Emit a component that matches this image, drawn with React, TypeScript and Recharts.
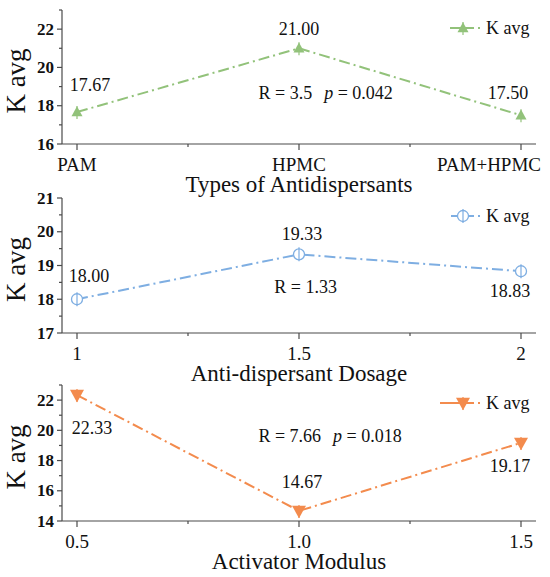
import React from 'react';
import { LineChart, Line, XAxis, YAxis, ReferenceDot } from 'recharts';

// panel 1: types of antidispersants
const antiTypes = ['PAM', 'HPMC', 'PAM+HPMC'];
const antiTypeK = [17.67, 21.0, 17.5];
const antiTypeYTicks = [16, 17, 18, 19, 20, 21, 22, 23];
const antiTypeYMajor = [16, 18, 20, 22];

// panel 2: anti-dispersant dosage
const dosages = ['1', '1.5', '2'];
const dosageK = [18.0, 19.33, 18.83];
const dosageYTicks = [17, 17.5, 18, 18.5, 19, 19.5, 20, 20.5, 21];
const dosageYMajor = [17, 18, 19, 20, 21];

// panel 3: activator modulus
const moduli = ['0.5', '1.0', '1.5'];
const modulusK = [22.33, 14.67, 19.17];
const modulusYTicks = [14, 15, 16, 17, 18, 19, 20, 21, 22, 23];
const modulusYMajor = [14, 16, 18, 20, 22];

const X_TICKS = [0, 0.5, 1, 1.5, 2];
const FONT = '"Liberation Serif", Tinos, "Times New Roman", "DejaVu Serif", serif';
const AXIS = '#4a4a4a';
const txt = { fontFamily: FONT };

type Shape = 'up' | 'circle' | 'down';

const Marker = ({ shape, cx, cy, color, size }: { shape: Shape; cx: number; cy: number; color: string; size: number }) => {
  const h = size / 2;
  if (shape === 'circle') {
    return (
      <g>
        <circle cx={cx} cy={cy} r={h} fill="#fff" stroke={color} strokeWidth={1.3} />
        <line x1={cx} x2={cx} y1={cy - h - 1.5} y2={cy + h + 1.5} stroke={color} strokeWidth={1.2} />
      </g>
    );
  }
  const pts =
    shape === 'up'
      ? `${cx},${cy - h * 1.05} ${cx - h},${cy + h * 0.75} ${cx + h},${cy + h * 0.75}`
      : `${cx},${cy + h * 1.05} ${cx - h},${cy - h * 0.75} ${cx + h},${cy - h * 0.75}`;
  return (
    <g>
      <line x1={cx} x2={cx} y1={cy - 6} y2={cy + 7} stroke={color} strokeWidth={1.2} />
      <polygon points={pts} fill={color} />
    </g>
  );
};

const Panel = (props: {
  top: number;
  height: number;
  marginTop: number;
  xAxisHeight: number;
  categories: string[];
  values: number[];
  yDomain: [number, number];
  yTicks: number[];
  yMajor: number[];
  xTitle: string;
  color: string;
  shape: Shape;
  markerSize: number;
  labelDx: number[];
  labelDy: number[];
  note: { x: number; y: number; r: string; p?: string };
  legendX: number;
  lastLabelEnd?: number;
}) => {
  const { categories, values, color, shape, markerSize, labelDx, labelDy, note } = props;
  const data = values.map((k, i) => ({ x: i, k }));

  const xTick = (p: any) => {
    const v = p.payload.value;
    const major = Number.isInteger(v);
    const atEnd = v === 2 && props.lastLabelEnd !== undefined;
    return (
      <g>
        <line x1={p.x} x2={p.x} y1={p.y} y2={p.y + (major ? 6 : 3)} stroke={AXIS} strokeWidth={1.2} />
        {major && (
          <text
            x={atEnd ? props.lastLabelEnd : p.x}
            y={p.y + 20}
            textAnchor={atEnd ? 'end' : 'middle'}
            dominantBaseline="central"
            fontSize={19}
            fill="#111"
            style={txt}
          >
            {categories[v]}
          </text>
        )}
      </g>
    );
  };

  const yTick = (p: any) => {
    const v = p.payload.value;
    const major = props.yMajor.includes(v);
    return (
      <g>
        <line x1={p.x - (major ? 5 : 3)} x2={p.x} y1={p.y} y2={p.y} stroke={AXIS} strokeWidth={1.2} />
        {major && (
          <text x={p.x - 8} y={p.y} textAnchor="end" dominantBaseline="central" fontSize={17} fontWeight="bold" fill="#111" style={txt}>
            {v}
          </text>
        )}
      </g>
    );
  };

  const dot = (p: any) => (
    <g key={`d${p.index}`}>
      <Marker shape={shape} cx={p.cx} cy={p.cy} color={color} size={markerSize} />
      <text
        x={p.cx + labelDx[p.index]}
        y={p.cy + labelDy[p.index]}
        textAnchor="middle"
        dominantBaseline="central"
        fontSize={18}
        fill="#111"
        style={txt}
      >
        {values[p.index].toFixed(2)}
      </text>
    </g>
  );

  const lx = props.legendX;

  return (
    <div style={{ position: 'absolute', left: 0, top: props.top, width: 550, height: props.height, fontFamily: FONT }}>
      <LineChart width={550} height={props.height} data={data} margin={{ top: props.marginTop, right: 14, bottom: 0, left: 0 }}>
        <XAxis
          xAxisId="b"
          dataKey="x"
          type="number"
          domain={[0, 2]}
          ticks={X_TICKS}
          interval={0}
          padding={{ left: 15, right: 15 }}
          height={props.xAxisHeight}
          tickSize={0}
          tickMargin={0}
          tickLine={false}
          stroke={AXIS}
          strokeWidth={1.2}
          tick={xTick}
          label={(lp: any) => (
            <text
              x={lp.viewBox.x + lp.viewBox.width / 2}
              y={lp.viewBox.y + 40}
              textAnchor="middle"
              dominantBaseline="central"
              fontSize={23}
              fill="#111"
              style={txt}
            >
              {props.xTitle}
            </text>
          )}
        />
        <XAxis xAxisId="t" orientation="top" dataKey="x" type="number" domain={[0, 2]} height={0} tick={false} tickLine={false} stroke={AXIS} strokeWidth={1.2} />
        <YAxis
          yAxisId="l"
          type="number"
          domain={props.yDomain}
          ticks={props.yTicks}
          interval={0}
          width={62}
          tickSize={0}
          tickMargin={0}
          tickLine={false}
          stroke={AXIS}
          strokeWidth={1.2}
          tick={yTick}
          label={(lp: any) => {
            const cx = lp.viewBox.x + 16;
            const cy = lp.viewBox.y + lp.viewBox.height / 2 + 4;
            return (
              <text x={cx} y={cy} transform={`rotate(-90 ${cx} ${cy})`} textAnchor="middle" dominantBaseline="central" fontSize={27} fill="#111" style={txt}>
                K avg
              </text>
            );
          }}
        />
        <YAxis yAxisId="r" orientation="right" type="number" domain={props.yDomain} width={0} tick={false} tickLine={false} stroke={AXIS} strokeWidth={1.2} />
        <Line
          xAxisId="b"
          yAxisId="l"
          dataKey="k"
          stroke={color}
          strokeWidth={2}
          strokeDasharray="11 4 2 4"
          dot={dot}
          activeDot={false}
          isAnimationActive={false}
        />
        <ReferenceDot
          xAxisId="b"
          yAxisId="l"
          x={note.x}
          y={note.y}
          r={1}
          fill="none"
          stroke="none"
          label={(lp: any) => (
            <text
              x={lp.viewBox.x + lp.viewBox.width / 2}
              y={lp.viewBox.y + lp.viewBox.height / 2}
              textAnchor="middle"
              dominantBaseline="central"
              fontSize={18}
              fill="#111"
              style={txt}
            >
              <tspan>{note.r}</tspan>
              {note.p && (
                <>
                  <tspan dx={12} fontStyle="italic">p</tspan>
                  <tspan> {note.p}</tspan>
                </>
              )}
            </text>
          )}
        />
      </LineChart>
      <svg style={{ position: 'absolute', left: lx - 6, top: props.marginTop + 4, overflow: 'visible' }} width={100} height={28}>
        <line x1={6} x2={478 - lx + 2} y1={14} y2={14} stroke={color} strokeWidth={2} />
        <line x1={478 - lx + 6} x2={478 - lx + 8} y1={14} y2={14} stroke={color} strokeWidth={2} />
        <Marker shape={shape} cx={463 - lx + 6} cy={14} color={color} size={markerSize} />
        <text x={486 - lx + 6} y={14} dominantBaseline="central" fontSize={18} fill="#111" style={txt}>
          K avg
        </text>
      </svg>
    </div>
  );
};

export default function App() {
  return (
    <div style={{ position: 'absolute', left: 0, top: 0, width: 550, height: 577, background: '#fff' }}>
      <Panel
        top={0}
        height={200}
        marginTop={10}
        xAxisHeight={56}
        categories={antiTypes}
        values={antiTypeK}
        yDomain={[16, 23]}
        yTicks={antiTypeYTicks}
        yMajor={antiTypeYMajor}
        xTitle="Types of Antidispersants"
        color="#92c27a"
        shape="up"
        markerSize={11}
        labelDx={[13, 0, -13]}
        labelDy={[-27, -19, -22]}
        note={{ x: 1.12, y: 18.66, r: 'R = 3.5', p: '= 0.042' }}
        legendX={450}
        lastLabelEnd={541}
      />
      <Panel
        top={184}
        height={206}
        marginTop={14}
        xAxisHeight={57}
        categories={dosages}
        values={dosageK}
        yDomain={[17, 21]}
        yTicks={dosageYTicks}
        yMajor={dosageYMajor}
        xTitle="Anti-dispersant Dosage"
        color="#7eaee2"
        shape="circle"
        markerSize={11}
        labelDx={[12, 3, -11]}
        labelDy={[-23, -20, 20]}
        note={{ x: 1.03, y: 18.37, r: 'R = 1.33' }}
        legendX={451}
      />
      <Panel
        top={374}
        height={203}
        marginTop={11}
        xAxisHeight={56}
        categories={moduli}
        values={modulusK}
        yDomain={[14, 23]}
        yTicks={modulusYTicks}
        yMajor={modulusYMajor}
        xTitle="Activator Modulus"
        color="#f38b4d"
        shape="down"
        markerSize={14}
        labelDx={[15, 3, -11]}
        labelDy={[33, -29, 23]}
        note={{ x: 1.14, y: 19.64, r: 'R = 7.66', p: '= 0.018' }}
        legendX={440}
      />
    </div>
  );
}
